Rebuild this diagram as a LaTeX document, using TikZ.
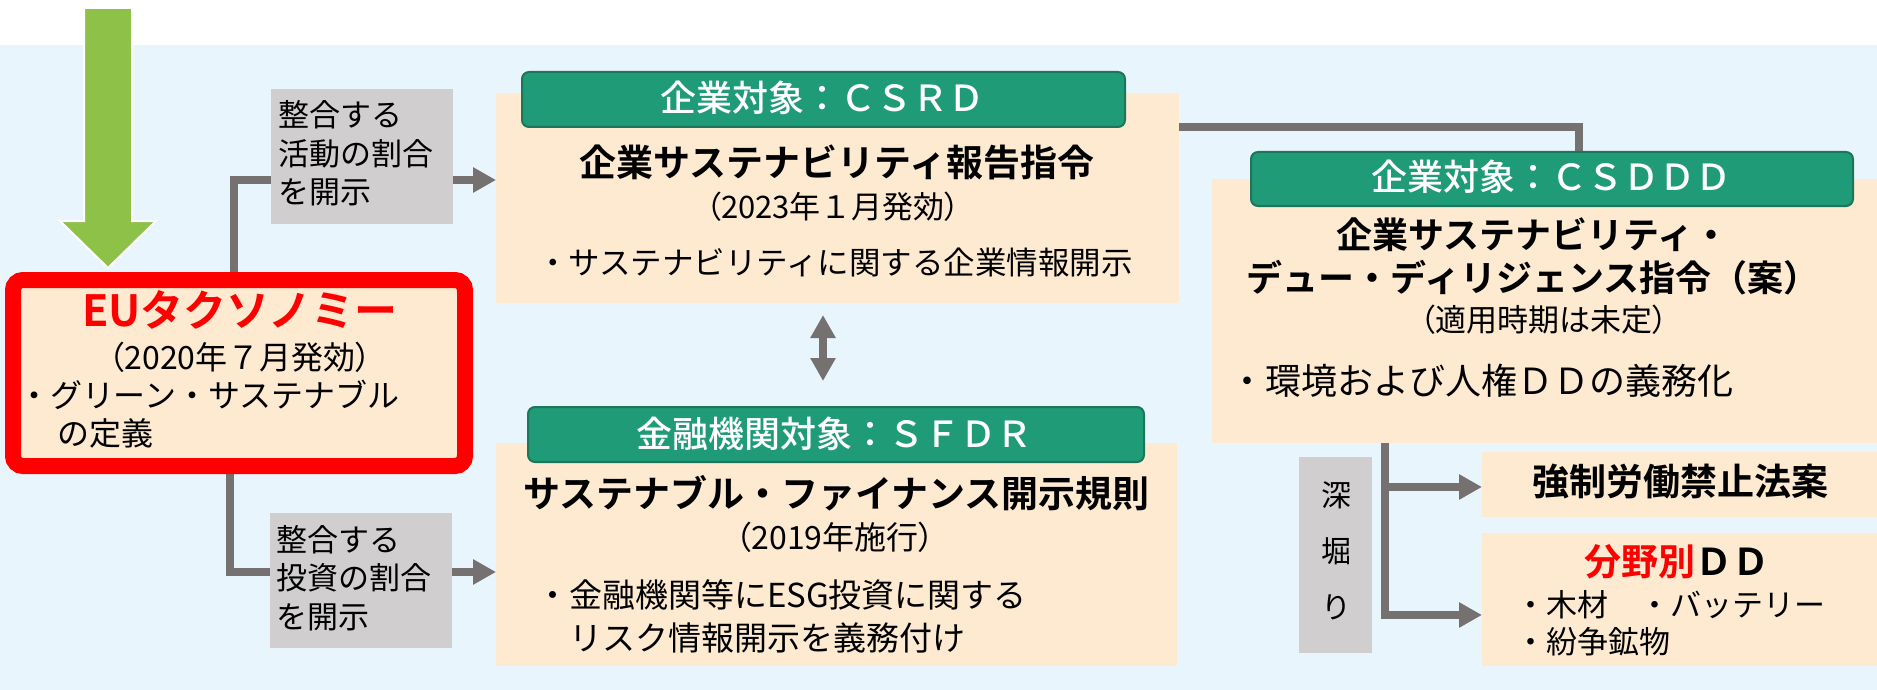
\documentclass[tikz,border=0pt]{standalone}
\usepackage{fontspec}
\setmainfont{Noto Sans CJK JP}[BoldFont={Noto Sans CJK JP Bold}]
\newfontfamily\jpp{Noto Sans CJK JP}[RawFeature=+palt,BoldFont={Noto Sans CJK JP Bold}]
\newfontfamily\jpm{Noto Sans CJK JP Medium}
\usetikzlibrary{arrows.meta,backgrounds}
\definecolor{bgblue}{RGB}{233,245,253}
\definecolor{peachc}{RGB}{253,234,209}
\definecolor{hgreen}{RGB}{31,155,120}
\definecolor{hgreendk}{RGB}{28,118,90}
\definecolor{lgray}{RGB}{208,206,206}
\definecolor{cgray}{RGB}{118,113,113}
\definecolor{agreen}{RGB}{141,193,72}
\definecolor{ured}{RGB}{255,0,0}
\newcommand\myfs[2]{\fontsize{#1pt}{#2pt}\selectfont}
\newcommand\lp{{\jpp （}}
\newcommand\rp{{\jpp ）}}
\tikzset{
  boxp/.style={fill=peachc, draw=none, inner sep=0pt, outer sep=0pt},
  hdr/.style={fill=hgreen, draw=hgreendk, line width=2pt, rounded corners=7pt, inner sep=0pt, outer sep=0pt},
  glbl/.style={fill=lgray, draw=none, inner sep=0pt, outer sep=0pt},
  conn/.style={draw=cgray, line width=8pt},
  arr/.style={-{Triangle[length=23pt,width=24pt]}},
  darr/.style={{Triangle[length=23pt,width=24pt]}-{Triangle[length=23pt,width=24pt]}},
  txt/.style={inner sep=0pt, outer sep=0pt, text=black},
  htxt/.style={inner sep=0pt, outer sep=0pt, text=white, font=\jpm\myfs{36}{40}},
}
\begin{document}
\begin{tikzpicture}[x=1pt,y=-1pt]
\useasboundingbox (0,0) rectangle (1877,690);

% ---------- boxes ----------
\node[draw=ured, line width=16pt, fill=peachc, rounded corners=10pt, inner sep=0pt, outer sep=0pt,
      minimum width=452pt, minimum height=186pt] (eu) at (239,373) {};
\node[glbl, minimum width=182pt, minimum height=135pt] (gray1) at (362,156.5) {};
\node[glbl, minimum width=182pt, minimum height=135pt] (gray2) at (361,580.5) {};
\node[boxp, minimum width=683pt, minimum height=210pt] (csrd) at (837.5,198) {};
\node[hdr, minimum width=603pt, minimum height=55pt] (csrdh) at (823.5,99.5) {};
\node[boxp, minimum width=681pt, minimum height=223pt] (sfdr) at (836.5,554.5) {};
\node[hdr, minimum width=616pt, minimum height=55pt] (sfdrh) at (836,434.5) {};
\node[boxp, minimum width=665pt, minimum height=264pt] (csddd) at (1544.5,311) {};
\node[hdr, minimum width=602pt, minimum height=54pt] (csdddh) at (1552,179) {};
\node[glbl, minimum width=73pt, minimum height=196pt] (fuka) at (1335.5,555) {};
\node[boxp, minimum width=395pt, minimum height=65pt] (kyosei) at (1679.5,484.5) {};
\node[boxp, minimum width=395pt, minimum height=133pt] (bunya) at (1679.5,599.5) {};

% ---------- background layer: fill, big arrow, connectors ----------
\begin{scope}[on background layer]
  \fill[bgblue] (0,45) rectangle (1877,690);
  \draw[fill=agreen, draw=white, line width=2pt]
    (84,8) -- (132,8) -- (132,221) -- (156,221) -- (108,268) -- (60,221) -- (84,221) -- cycle;
  \coordinate (j1) at (234,180);
  \coordinate (j2) at (230,572);
  \coordinate (k1) at (1579,127);
  \coordinate (dx) at (823,0);
  \coordinate (b1) at (1385,487);
  \coordinate (b2) at (1385,615);
  \draw[conn] (eu.north -| j1) |- (gray1.west |- j1);
  \draw[conn,arr] (gray1.east |- j1) -- (csrd.west |- j1);
  \draw[conn] (eu.south -| j2) |- (gray2.west |- j2);
  \draw[conn,arr] (gray2.east |- j2) -- (sfdr.west |- j2);
  \draw[conn] (csrd.east |- k1) -| (csdddh.north -| k1);
  \draw[conn,darr,shorten <=12pt,shorten >=26pt] (csrd.south -| dx) -- (sfdrh.north -| dx);
  \draw[conn,arr] (csddd.south -| b2) |- (bunya.west |- b2);
  \draw[conn,arr] (b1) -- (kyosei.west |- b1);
\end{scope}

% ---------- texts ----------
% EU taxonomy
\node[txt, text=ured, font=\bfseries\myfs{43}{48}] (eut) at (240,310) {EUタクソノミー};
\node[txt, font=\myfs{32}{36}] (eud) at (240,357) {\lp 2020年７月発効\rp};
\node[txt, anchor=west, font=\myfs{32}{36}] (eub1) at (18,395) {・グリーン・サステナブル};
\node[txt, anchor=west, font=\myfs{32}{36}] (eub2) at (57,433) {の定義};
% gray labels
\node[txt, anchor=west, align=left, font=\myfs{31}{38.5}] (g1t) at (278,153.5) {整合する\\活動の割合\\を開示};
\node[txt, anchor=west, align=left, font=\myfs{31}{38.5}] (g2t) at (276,578) {整合する\\投資の割合\\を開示};
% CSRD
\node[htxt] (csrdht) at (822,98) {企業対象：ＣＳＲＤ};
\node[txt, font=\bfseries\myfs{37}{42}] (csrdt) at (837,162) {企業サステナビリティ報告指令};
\node[txt, font=\myfs{31}{36}] (csrdd) at (833,207) {\lp 2023年１月発効\rp};
\node[txt, font=\myfs{31.5}{36}] (csrdb) at (835,263) {・サステナビリティに関する企業情報開示};
% SFDR
\node[htxt] (sfdrht) at (834,434) {金融機関対象：ＳＦＤＲ};
\node[txt, font=\bfseries\myfs{37}{42}] (sfdrt) at (836.5,493) {サステナブル・ファイナンス開示規則};
\node[txt, font=\myfs{32}{36}] (sfdrd) at (835,537) {\lp 2019年施行\rp};
\node[txt, anchor=west, align=left, font=\myfs{33}{43}] (sfdrb) at (536,616.5)
  {・金融機関等にESG投資に関する\\\phantom{・}リスク情報開示を義務付け};
% CSDDD
\node[htxt] (csdddht) at (1551,177) {企業対象：ＣＳＤＤＤ};
\node[txt, align=center, font=\bfseries\myfs{36}{43}] (csdddt) at (1533,256.5)
  {企業サステナビリティ・\\デュー・ディリジェンス指令（案）};
\node[txt, font=\myfs{31}{36}] (csdddd) at (1544,320) {\lp 適用時期は未定\rp};
\node[txt, anchor=west, font=\myfs{36}{40}] (csdddb) at (1229,381) {・環境および人権ＤＤの義務化};
% deep dive
\node[txt, align=center, font=\myfs{30}{56}] (fukat) at (1336,551) {深\\堀\\り};
\node[txt, font=\bfseries\myfs{37}{42}] (kyoseit) at (1680,482) {強制労働禁止法案};
\node[txt, font=\bfseries\myfs{37}{42}] (bunyat) at (1677,562) {\textcolor{ured}{分野別}ＤＤ};
\node[txt, anchor=west, align=left, font=\myfs{31}{37}] (bunyab) at (1515,623.5)
  {・木材　・バッテリー\\・紛争鉱物};
\end{tikzpicture}
\end{document}
